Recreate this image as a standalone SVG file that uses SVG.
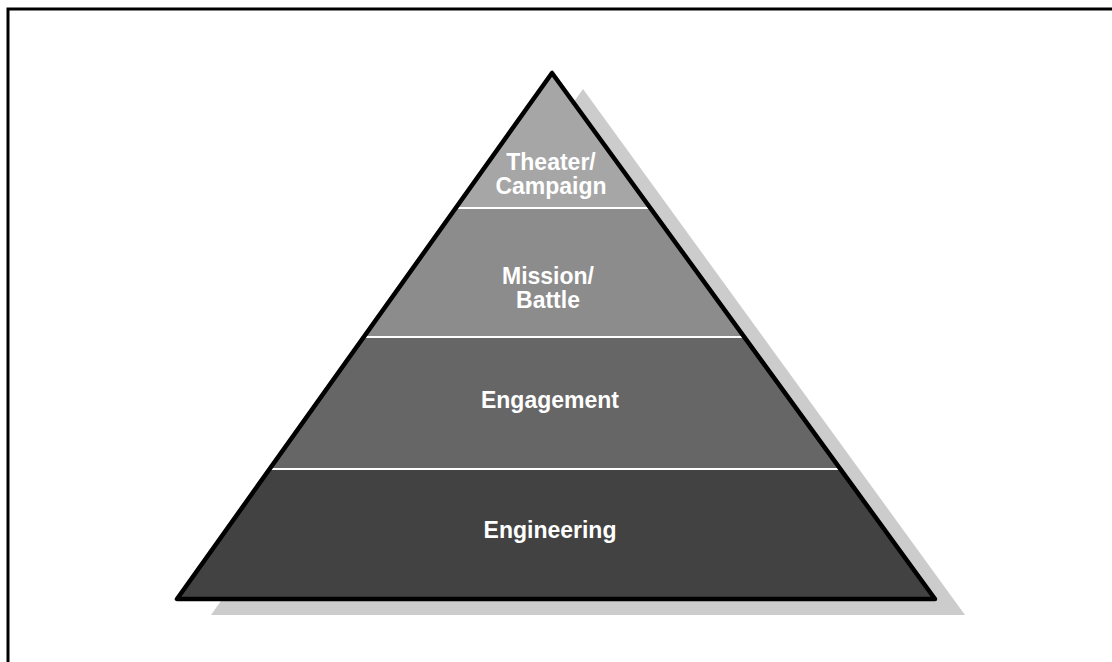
<svg xmlns="http://www.w3.org/2000/svg" width="1112" height="662" viewBox="0 0 1112 662">
<style>
.lbl{font-family:"Liberation Sans",Arial,sans-serif;font-weight:bold;font-size:23px;fill:#ffffff;text-anchor:middle}
.div{stroke:#ffffff;stroke-width:2}
</style>
<defs>
<clipPath id="tri"><polygon points="552,73 177,599 935,599"/></clipPath>
</defs>
<rect width="1112" height="662" fill="#ffffff"/>
<polyline points="8,662 8,9 1112,9" fill="none" stroke="#000000" stroke-width="3"/>
<polygon id="shadow" points="583,89 211,615 965,615" fill="#cccccc"/>
<g clip-path="url(#tri)">
<g id="theater"><rect x="150" y="60" width="820" height="148" fill="#a6a6a6"/></g>
<g id="mission"><rect x="150" y="208" width="820" height="129" fill="#8c8c8c"/></g>
<g id="engagement"><rect x="150" y="337" width="820" height="132" fill="#666666"/></g>
<g id="engineering"><rect x="150" y="469" width="820" height="140" fill="#424242"/></g>
<g id="connectors">
<line class="div" x1="150" y1="208" x2="970" y2="208"/>
<line class="div" x1="150" y1="337" x2="970" y2="337"/>
<line class="div" x1="150" y1="469" x2="970" y2="469"/>
</g>
</g>
<polygon points="552,73 177,599 935,599" fill="none" stroke="#000000" stroke-width="4.5" stroke-linejoin="round"/>
<text class="lbl" x="551" y="170">Theater/</text>
<text class="lbl" x="551" y="194">Campaign</text>
<text class="lbl" x="548" y="284">Mission/</text>
<text class="lbl" x="548" y="308">Battle</text>
<text class="lbl" x="550" y="408">Engagement</text>
<text class="lbl" x="550" y="538">Engineering</text>
</svg>
